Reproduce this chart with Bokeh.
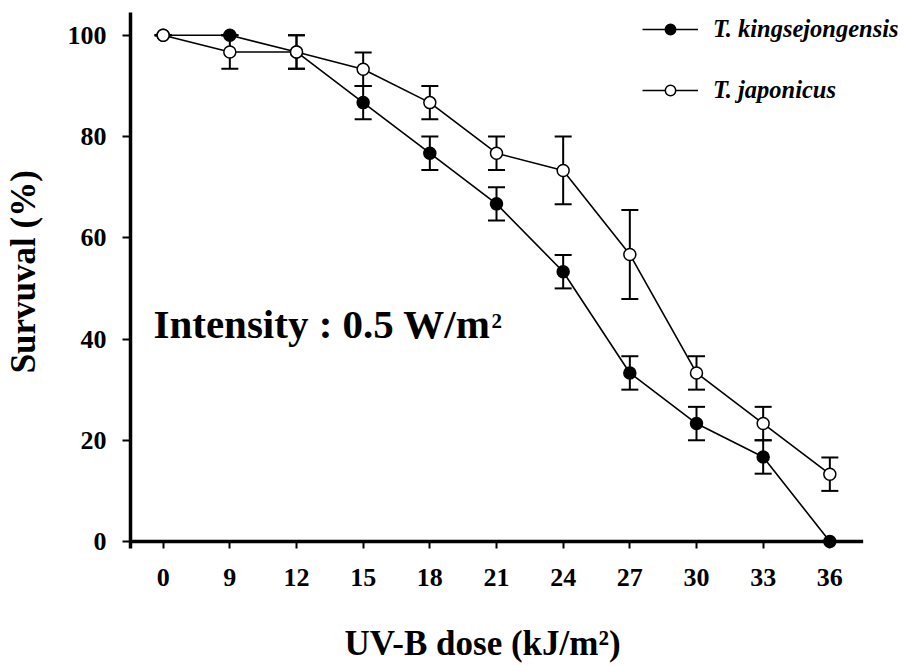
from bokeh.plotting import figure
from bokeh.models import (Range1d, FixedTicker, Label, Legend, LegendItem,
                          ColumnDataSource)
from bokeh.embed import file_html
from bokeh.resources import INLINE

# ---- data ----
dose_labels = ["0", "9", "12", "15", "18", "21", "24", "27", "30", "33", "36"]
king_mean = [100, 100, 96.7, 86.7, 76.7, 66.7, 53.3, 33.3, 23.3, 16.7, 0]
king_err = [0, 0, 3.3, 3.3, 3.3, 3.3, 3.3, 3.3, 3.3, 3.3, 0]
jap_mean = [100, 96.7, 96.7, 93.3, 86.7, 76.7, 73.3, 56.7, 33.3, 23.3, 13.3]
jap_err = [0, 3.3, 3.3, 3.3, 3.3, 3.3, 6.7, 8.8, 3.3, 3.3, 3.3]
y_ticks = [0, 20, 40, 60, 80, 100]

FONT = "Liberation Serif"
idx = list(range(len(dose_labels)))
X_AXIS_END = 10.5  # where the drawn x axis line stops (layout)

p = figure(width=904, height=666, output_backend="svg", toolbar_location=None,
           x_range=Range1d(-0.49, 11.12), y_range=Range1d(-1.38, 104.5),
           min_border_left=130, min_border_right=0, min_border_top=12,
           min_border_bottom=118, background_fill_color="white",
           border_fill_color="white")
p.outline_line_color = None
p.xgrid.grid_line_color = None
p.ygrid.grid_line_color = None

# axes
xa = p.xaxis[0]
xa.ticker = FixedTicker(ticks=idx)
xa.major_label_overrides = {i: s for i, s in zip(idx, dose_labels)}
xa.axis_line_color = None
xa.major_tick_in = 6
xa.major_tick_out = 0
xa.major_tick_line_width = 2
xa.minor_tick_line_color = None
xa.major_label_standoff = 20
xa.major_label_text_font = FONT
xa.major_label_text_font_style = "bold"
xa.major_label_text_font_size = "26px"
xa.major_label_text_color = "black"
xa.axis_label = "UV-B dose (kJ/m\u00b2)\u2003\u2003"
xa.axis_label_text_font = FONT
xa.axis_label_text_font_style = "bold"
xa.axis_label_text_font_size = "35px"
xa.axis_label_text_color = "black"
xa.axis_label_standoff = 35

ya = p.yaxis[0]
ya.ticker = FixedTicker(ticks=y_ticks)
ya.axis_line_width = 3.5
ya.axis_line_color = "black"
ya.major_tick_in = 0
ya.major_tick_out = 8
ya.major_tick_line_width = 2
ya.minor_tick_line_color = None
ya.major_label_standoff = 16
ya.major_label_text_font = FONT
ya.major_label_text_font_style = "bold"
ya.major_label_text_font_size = "26px"
ya.major_label_text_color = "black"
ya.axis_label = "\u2002Survuval (%)"
ya.axis_label_text_font = FONT
ya.axis_label_text_font_style = "bold"
ya.axis_label_text_font_size = "35px"
ya.axis_label_text_color = "black"
ya.axis_label_standoff = 22

# x axis line at y = 0
p.segment(x0=[-1], y0=[0], x1=[X_AXIS_END], y1=[0], line_color="black", line_width=3.5)

src_k = ColumnDataSource(dict(x=idx, y=king_mean,
                              lo=[m - e for m, e in zip(king_mean, king_err)],
                              hi=[m + e for m, e in zip(king_mean, king_err)]))
src_j = ColumnDataSource(dict(x=idx, y=jap_mean,
                              lo=[m - e for m, e in zip(jap_mean, jap_err)],
                              hi=[m + e for m, e in zip(jap_mean, jap_err)]))

lk = p.line("x", "y", source=src_k, line_color="black", line_width=1.6)
lj = p.line("x", "y", source=src_j, line_color="black", line_width=1.6)

for src in (src_k, src_j):
    p.segment(x0="x", x1="x", y0="lo", y1="hi", source=src, line_color="black", line_width=2)
    p.scatter("x", "lo", source=src, marker="dash", size=17, line_color="black", line_width=2)
    p.scatter("x", "hi", source=src, marker="dash", size=17, line_color="black", line_width=2)

sk = p.scatter("x", "y", source=src_k, marker="circle", size=12, fill_color="black",
               line_color="black", line_width=1.5)
sj = p.scatter("x", "y", source=src_j, marker="circle", size=12, fill_color="white",
               line_color="black", line_width=1.5)

legend = Legend(items=[LegendItem(label="T. kingsejongensis", renderers=[lk, sk]),
                       LegendItem(label="T. japonicus", renderers=[lj, sj])],
                location=(512, 444), padding=0, margin=0, spacing=33,
                glyph_width=56, glyph_height=26, label_height=26, label_standoff=15,
                label_text_font=FONT, label_text_font_style="bold italic",
                label_text_font_size="24.5px", label_text_color="black",
                background_fill_alpha=0, border_line_color=None)
p.add_layout(legend, "center")

# annotation text inside the frame
txt = dict(x_units="screen", y_units="screen", text_font=FONT,
           text_font_style="bold", text_color="black", text_baseline="middle",
           text_align="left")
p.add_layout(Label(x=23, y=225, text="Intensity : 0.5 W/m", text_font_size="41px", **txt))
p.add_layout(Label(x=361, y=228, text="2", text_font_size="21px", **txt))

open("out.html", "w").write(file_html(p, INLINE))
